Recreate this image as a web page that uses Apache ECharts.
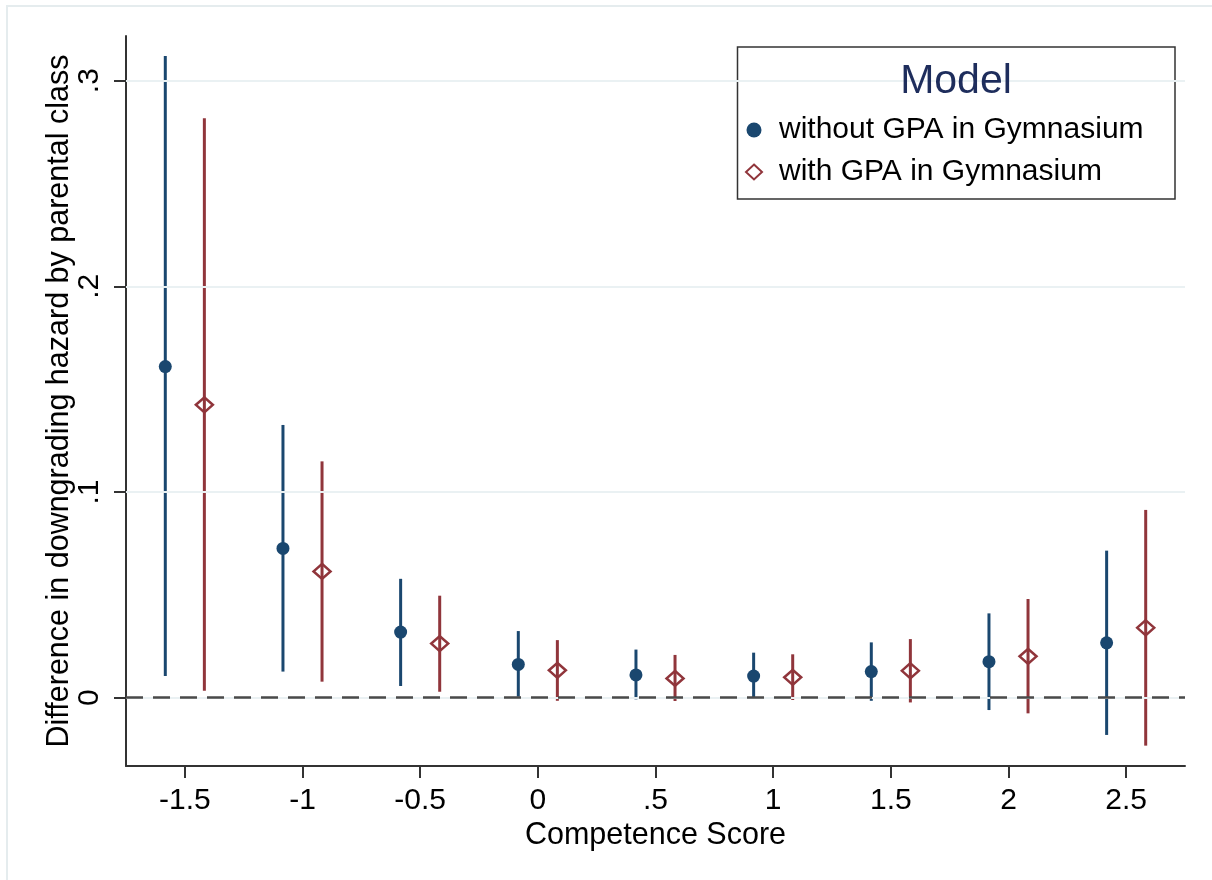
<!DOCTYPE html>
<html>
<head>
<meta charset="utf-8">
<script src="https://cdn.jsdelivr.net/npm/echarts@6/dist/echarts.min.js"></script>
<style>
  html, body { margin: 0; padding: 0; background: #ffffff; }
  #chart { width: 1212px; height: 880px; }
</style>
</head>
<body>
<div id="chart"></div>
<script>
// Competence score positions (each model shifted slightly left/right of the tick)
const withoutX   = [-1.583, -1.083, -0.583, -0.083, 0.417, 0.917, 1.417, 1.917, 2.417];
const withoutEst = [0.1610, 0.0726, 0.0319, 0.0162, 0.0111, 0.0105, 0.0127, 0.0175, 0.0267];
const withoutLo  = [0.0105, 0.0127, 0.0057, 0.0005, -0.0008, -0.0006, -0.0015, -0.0060, -0.0181];
const withoutHi  = [0.3120, 0.1326, 0.0578, 0.0324, 0.0234, 0.0219, 0.0269, 0.0410, 0.0715];

const withX   = [-1.417, -0.917, -0.417, 0.083, 0.583, 1.083, 1.583, 2.083, 2.583];
const withEst = [0.1424, 0.0614, 0.0263, 0.0133, 0.0094, 0.0099, 0.0131, 0.0201, 0.0340];
const withLo  = [0.0034, 0.0078, 0.0029, -0.0015, -0.0016, -0.0011, -0.0023, -0.0076, -0.0233];
const withHi  = [0.2817, 0.1149, 0.0496, 0.0280, 0.0208, 0.0211, 0.0285, 0.0480, 0.0913];

const xTickValues = [-1.5, -1, -0.5, 0, 0.5, 1, 1.5, 2, 2.5];
const xTickLabels = ['-1.5', '-1', '-0.5', '0', '.5', '1', '1.5', '2', '2.5'];
const yTickValues = [0, 0.1, 0.2, 0.3];
const yTickLabels = ['0', '.1', '.2', '.3'];

const seriesNames = ['without GPA in Gymnasium', 'with GPA in Gymnasium'];
const legendTitle = 'Model';
const xTitle = 'Competence Score';
const yTitle = 'Difference in downgrading hazard by parental class';

const NAVY = '#1a476f';
const MAROON = '#90353b';
const FONT = '"Liberation Sans", Arial, sans-serif';

function labelFor(values, labels) {
  return function (v) {
    for (let i = 0; i < values.length; i++) {
      if (Math.abs(values[i] - v) < 1e-9) return labels[i];
    }
    return '';
  };
}

function ciSeries(name, xs, lo, hi, color) {
  return {
    type: 'custom',
    name: name,
    silent: true,
    z: 3,
    data: xs.map((x, i) => [x, lo[i], hi[i]]),
    encode: { x: 0, y: [1, 2] },
    renderItem: function (params, api) {
      const a = api.coord([api.value(0), api.value(1)]);
      const b = api.coord([api.value(0), api.value(2)]);
      return {
        type: 'line',
        shape: { x1: a[0], y1: a[1], x2: b[0], y2: b[1] },
        style: { stroke: color, lineWidth: 3, lineCap: 'butt' }
      };
    }
  };
}

const gridLineStyle = { color: '#eaf1f3', width: 2, type: 'solid' };

const chart = echarts.init(document.getElementById('chart'), null, { renderer: 'canvas' });

chart.setOption({
  backgroundColor: '#ffffff',
  animation: false,
  textStyle: { fontFamily: FONT },
  grid: { left: 126, right: 27, top: 36, bottom: 114, containLabel: false },
  xAxis: {
    type: 'value',
    min: -1.75,
    max: 2.75,
    name: xTitle,
    nameLocation: 'middle',
    nameGap: 54,
    nameMoveOverlap: false,
    nameTextStyle: { fontSize: 30.5, color: '#000', fontFamily: FONT },
    axisLine: { show: true, onZero: false, lineStyle: { color: '#333', width: 2 } },
    axisTick: { show: true, length: 12, customValues: xTickValues, lineStyle: { color: '#333', width: 2 } },
    axisLabel: {
      show: true, customValues: xTickValues, margin: 20,
      fontSize: 30, color: '#000', fontFamily: FONT,
      formatter: labelFor(xTickValues, xTickLabels)
    },
    splitLine: { show: false }
  },
  yAxis: {
    type: 'value',
    min: -0.0332,
    max: 0.3217,
    name: yTitle,
    nameLocation: 'middle',
    nameRotate: 90,
    nameGap: 51,
    nameMoveOverlap: false,
    nameTextStyle: { fontSize: 30.5, color: '#000', fontFamily: FONT },
    axisLine: { show: true, onZero: false, lineStyle: { color: '#333', width: 2 } },
    axisTick: { show: true, length: 12, customValues: yTickValues, lineStyle: { color: '#333', width: 2 } },
    axisLabel: {
      show: true, customValues: yTickValues, rotate: 90, margin: 21,
      fontSize: 30, color: '#000', fontFamily: FONT,
      formatter: labelFor(yTickValues, yTickLabels)
    },
    splitLine: { show: false }
  },
  legend: {
    data: seriesNames,
    orient: 'vertical',
    left: 745,
    top: 115,
    padding: 0,
    itemWidth: 16,
    itemHeight: 15,
    itemGap: 12,
    z: 6,
    textStyle: { fontSize: 30, color: '#000', fontFamily: FONT, lineHeight: 30, padding: [0, 0, 0, 12] }
  },
  graphic: [
    {
      type: 'rect', silent: true, z: 0,
      shape: { x: 7, y: 6, width: 1400, height: 1000 },
      style: { fill: 'none', stroke: '#e5ecee', lineWidth: 2 }
    },
    {
      type: 'rect', silent: true, z: 5,
      shape: { x: 737.5, y: 47, width: 437.5, height: 152 },
      style: { fill: '#ffffff', stroke: '#333', lineWidth: 1.5 }
    },
    {
      type: 'text', silent: true, z: 6,
      x: 956, y: 82,
      style: {
        text: legendTitle, fill: '#1e2d5c', font: '41px ' + FONT,
        textAlign: 'center', textVerticalAlign: 'middle'
      }
    }
  ],
  series: [
    {
      type: 'line',
      name: 'reference lines',
      data: [],
      silent: true,
      z: 1,
      markLine: {
        silent: true,
        symbol: 'none',
        label: { show: false },
        animation: false,
        data: [
          { yAxis: 0.1, lineStyle: gridLineStyle },
          { yAxis: 0.2, lineStyle: gridLineStyle },
          { yAxis: 0.3, lineStyle: gridLineStyle },
          { yAxis: 0, lineStyle: gridLineStyle },
          { yAxis: 0, lineStyle: { color: '#4a4a4a', width: 2.5, type: [17, 10] } }
        ]
      }
    },
    ciSeries('ci without', withoutX, withoutLo, withoutHi, NAVY),
    ciSeries('ci with', withX, withLo, withHi, MAROON),
    {
      type: 'scatter',
      name: seriesNames[0],
      z: 4,
      symbol: 'circle',
      symbolSize: 13,
      itemStyle: { color: NAVY, opacity: 1 },
      data: withoutX.map((x, i) => [x, withoutEst[i]])
    },
    {
      type: 'scatter',
      name: seriesNames[1],
      z: 4,
      symbol: 'diamond',
      symbolSize: [17, 15],
      itemStyle: { color: 'rgba(255,255,255,0)', borderColor: MAROON, borderWidth: 2.5, opacity: 1 },
      data: withX.map((x, i) => [x, withEst[i]])
    }
  ]
});
</script>
</body>
</html>
